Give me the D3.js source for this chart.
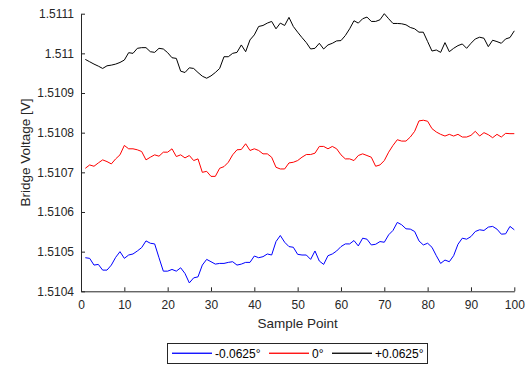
<!DOCTYPE html>
<html>
<head>
<meta charset="utf-8">
<script src="https://cdn.jsdelivr.net/npm/d3@7"></script>
<style>
  html, body { margin: 0; padding: 0; background: #fff; }
  svg { display: block; font-family: "Liberation Sans", Arial, sans-serif; }
</style>
</head>
<body>
<svg id="chart" width="527" height="368"></svg>
<script>
// Bridge voltage readings for three tilt angles, samples 1..100
const sampleIndex = d3.range(1, 101);

const voltsNeg = [
  1.5104847, 1.5104831, 1.5104661, 1.5104678, 1.5104534, 1.5104534, 1.5104661, 1.5104856, 1.5105000, 1.5104831,
  1.5104915, 1.5104941, 1.5105017, 1.5105102, 1.5105271, 1.5105212, 1.5105195, 1.5104847, 1.5104508, 1.5104508,
  1.5104551, 1.5104508, 1.5104593, 1.5104449, 1.5104212, 1.5104339, 1.5104364, 1.5104661, 1.5104805, 1.5104746,
  1.5104686, 1.5104703, 1.5104703, 1.5104729, 1.5104746, 1.5104661, 1.5104686, 1.5104729, 1.5104729, 1.5104890,
  1.5104847, 1.5104873, 1.5104941, 1.5104915, 1.5105254, 1.5105407, 1.5105237, 1.5105127, 1.5105110, 1.5104932,
  1.5104915, 1.5104915, 1.5104805, 1.5105017, 1.5104763, 1.5104678, 1.5104898, 1.5104941, 1.5105017, 1.5105127,
  1.5105195, 1.5105195, 1.5105280, 1.5105144, 1.5105339, 1.5105314, 1.5105169, 1.5105186, 1.5105254, 1.5105237,
  1.5105424, 1.5105534, 1.5105737, 1.5105678, 1.5105576, 1.5105568, 1.5105508, 1.5105271, 1.5105169, 1.5105212,
  1.5105110, 1.5104898, 1.5104703, 1.5104788, 1.5104746, 1.5104898, 1.5105186, 1.5105339, 1.5105314, 1.5105381,
  1.5105508, 1.5105551, 1.5105534, 1.5105619, 1.5105636, 1.5105568, 1.5105441, 1.5105449, 1.5105636, 1.5105551
];

const voltsZero = [
  1.5107102, 1.5107186, 1.5107153, 1.5107237, 1.5107314, 1.5107271, 1.5107212, 1.5107339, 1.5107441, 1.5107678,
  1.5107593, 1.5107593, 1.5107568, 1.5107525, 1.5107314, 1.5107381, 1.5107441, 1.5107407, 1.5107508, 1.5107508,
  1.5107593, 1.5107398, 1.5107441, 1.5107364, 1.5107424, 1.5107297, 1.5107339, 1.5107000, 1.5107025, 1.5106898,
  1.5106898, 1.5107102, 1.5107144, 1.5107254, 1.5107441, 1.5107568, 1.5107576, 1.5107720, 1.5107551, 1.5107593,
  1.5107551, 1.5107466, 1.5107466, 1.5107381, 1.5107127, 1.5107085, 1.5107085, 1.5107237, 1.5107254, 1.5107297,
  1.5107381, 1.5107449, 1.5107449, 1.5107483, 1.5107653, 1.5107653, 1.5107593, 1.5107653, 1.5107593, 1.5107441,
  1.5107339, 1.5107339, 1.5107297, 1.5107424, 1.5107466, 1.5107424, 1.5107381, 1.5107153, 1.5107186, 1.5107297,
  1.5107508, 1.5107678, 1.5107822, 1.5107788, 1.5107788, 1.5107890, 1.5108034, 1.5108297, 1.5108314, 1.5108288,
  1.5108102, 1.5108017, 1.5107958, 1.5107915, 1.5107958, 1.5107915, 1.5107958, 1.5107890, 1.5107890, 1.5107932,
  1.5108034, 1.5107915, 1.5108000, 1.5107949, 1.5107873, 1.5107958, 1.5107890, 1.5107983, 1.5107975, 1.5107975
];

const voltsPos = [
  1.5109847, 1.5109788, 1.5109729, 1.5109678, 1.5109619, 1.5109686, 1.5109703, 1.5109729, 1.5109771, 1.5109831,
  1.5110017, 1.5110000, 1.5110127, 1.5110144, 1.5110144, 1.5110042, 1.5110025, 1.5110127, 1.5110110, 1.5110017,
  1.5109890, 1.5109873, 1.5109551, 1.5109517, 1.5109636, 1.5109619, 1.5109517, 1.5109424, 1.5109373, 1.5109432,
  1.5109517, 1.5109619, 1.5109915, 1.5109915, 1.5110000, 1.5110025, 1.5110212, 1.5110042, 1.5110339, 1.5110466,
  1.5110678, 1.5110703, 1.5110763, 1.5110805, 1.5110619, 1.5110763, 1.5110703, 1.5110907, 1.5110678, 1.5110534,
  1.5110398, 1.5110271, 1.5110110, 1.5110127, 1.5110254, 1.5110110, 1.5110212, 1.5110254, 1.5110314, 1.5110322,
  1.5110449, 1.5110619, 1.5110822, 1.5110763, 1.5110873, 1.5110915, 1.5110805, 1.5110805, 1.5110847, 1.5111000,
  1.5110873, 1.5110754, 1.5110754, 1.5110746, 1.5110720, 1.5110653, 1.5110619, 1.5110534, 1.5110534, 1.5110297,
  1.5110059, 1.5110085, 1.5110025, 1.5110271, 1.5110042, 1.5110127, 1.5110195, 1.5110237, 1.5110127, 1.5110254,
  1.5110364, 1.5110407, 1.5110381, 1.5110169, 1.5110331, 1.5110297, 1.5110254, 1.5110364, 1.5110398, 1.5110568
];

const seriesNames = ["-0.0625°", "0°", "+0.0625°"];
const seriesColors = ["#0000ff", "#ff0000", "#000000"];
const xTicks = [0, 10, 20, 30, 40, 50, 60, 70, 80, 90, 100];
const yTicks = [1.5104, 1.5105, 1.5106, 1.5107, 1.5108, 1.5109, 1.511, 1.5111];

const series = [voltsNeg, voltsZero, voltsPos].map((vals, k) => ({
  name: seriesNames[k],
  color: seriesColors[k],
  values: vals.map((v, i) => ({ x: sampleIndex[i], y: v }))
}));

const svg = d3.select("#chart");
const plotLeft = 81, plotRight = 514.3, plotTop = 13.7, plotBottom = 291.3;

const x = d3.scaleLinear().domain([0, 100]).range([plotLeft, plotRight]);
const y = d3.scaleLinear().domain([1.5104, 1.5111]).range([plotBottom, plotTop]);

const axisColor = "#262626";

// data lines
const lineGen = d3.line().x(d => x(d.x)).y(d => y(d.y));
svg.append("g").selectAll("path").data(series).join("path")
  .attr("d", d => lineGen(d.values))
  .attr("fill", "none")
  .attr("stroke", d => d.color)
  .attr("stroke-width", 1)
  .attr("stroke-linejoin", "round");

// x axis, ticks pointing inward
const xAxis = svg.append("g")
  .attr("transform", `translate(0,${plotBottom})`)
  .call(d3.axisBottom(x).tickValues(xTicks).tickFormat(d3.format("d")).tickSizeInner(-4).tickSizeOuter(0).tickPadding(9));

// y axis, ticks pointing inward
const yAxis = svg.append("g")
  .attr("transform", `translate(${plotLeft},0)`)
  .call(d3.axisLeft(y).tickValues(yTicks).tickFormat(d => String(+d.toFixed(4))).tickSizeInner(-4).tickSizeOuter(0).tickPadding(7));

[xAxis, yAxis].forEach(g => {
  g.select(".domain").attr("stroke", axisColor).attr("stroke-width", 1);
  g.selectAll(".tick line").attr("stroke", axisColor);
  g.selectAll(".tick text").attr("fill", axisColor).attr("font-size", 12)
    .attr("font-family", "'Liberation Sans', Arial, sans-serif");
});

// axis titles
svg.append("text")
  .attr("x", (plotLeft + plotRight) / 2).attr("y", 328)
  .attr("text-anchor", "middle").attr("font-size", 13.5).attr("fill", axisColor)
  .text("Sample Point");

svg.append("text")
  .attr("transform", `translate(25,${(plotTop + plotBottom) / 2}) rotate(-90)`)
  .attr("text-anchor", "middle").attr("dominant-baseline", "central")
  .attr("font-size", 13.5).attr("fill", axisColor)
  .text("Bridge Voltage [V]");

// legend box with a colour swatch and label per series
const legend = svg.append("g");
legend.append("rect")
  .attr("x", 167.5).attr("y", 343.5).attr("width", 260).attr("height", 20)
  .attr("fill", "#fff").attr("stroke", axisColor).attr("stroke-width", 1);

const legendX = [172, 269, 332];
series.forEach((s, i) => {
  legend.append("rect")
    .attr("x", legendX[i]).attr("y", 352.6)
    .attr("width", 40).attr("height", 1.3)
    .attr("fill", s.color);
  legend.append("text")
    .attr("x", legendX[i] + 43).attr("y", 353.5).attr("dominant-baseline", "central")
    .attr("font-size", 12).attr("fill", "#000")
    .text(s.name);
});
</script>
</body>
</html>
